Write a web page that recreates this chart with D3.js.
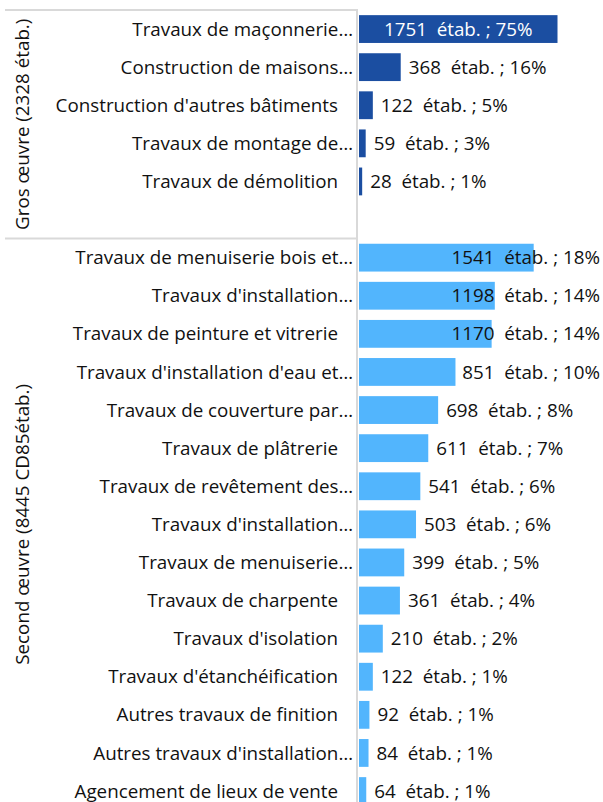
<!DOCTYPE html>
<html>
<head>
<meta charset="utf-8">
<script src="https://cdnjs.cloudflare.com/ajax/libs/d3/7.8.5/d3.min.js"></script>
<style>
  body { margin: 0; background: #fff; }
  text { font-family: "Open Sans", sans-serif; }
</style>
</head>
<body>
<script>
var width = 603
var height = 802

// data
var groupNames = ["Gros œuvre (2328 étab.)", "Second œuvre (8445 CD85étab.)"]
var grosLabels = ["Travaux de maçonnerie…", "Construction de maisons…", "Construction d'autres bâtiments",
                  "Travaux de montage de…", "Travaux de démolition"]
var grosValues = [1751, 368, 122, 59, 28]
var grosPct = [75, 16, 5, 3, 1]
var secondLabels = ["Travaux de menuiserie bois et…", "Travaux d'installation…", "Travaux de peinture et vitrerie",
                    "Travaux d'installation d'eau et…", "Travaux de couverture par…", "Travaux de plâtrerie",
                    "Travaux de revêtement des…", "Travaux d'installation…", "Travaux de menuiserie…",
                    "Travaux de charpente", "Travaux d'isolation", "Travaux d'étanchéification",
                    "Autres travaux de finition", "Autres travaux d'installation…", "Agencement de lieux de vente"]
var secondValues = [1541, 1198, 1170, 851, 698, 611, 541, 503, 399, 361, 210, 122, 92, 84, 64]
var secondPct = [18, 14, 14, 10, 8, 7, 6, 6, 5, 4, 2, 1, 1, 1, 1]
var groupSlots = [6, 15]
var colors = ["#1b4ea1", "#52b5fd"]

var x0 = 358
var ytop = 10
var step = 38.1
var labelRight = 338
var chartRight = 600
var fontSize = "18.8px"

var rows = []
grosLabels.forEach(function(d, i) { rows.push({g: 0, label: d, v: grosValues[i], p: grosPct[i], slot: i}) })
secondLabels.forEach(function(d, i) { rows.push({g: 1, label: d, v: secondValues[i], p: secondPct[i], slot: groupSlots[0] + i}) })

var nSlots = d3.sum(groupSlots)

var y = d3.scaleBand()
    .domain(d3.range(nSlots))
    .range([ytop, ytop + step * nSlots])
    .paddingInner(0.27)
    .paddingOuter(0.135)

var x = d3.scaleLinear()
    .domain([0, 1751])
    .range([0, 198.5])

var svg = d3.select("body").append("svg")
    .attr("width", width)
    .attr("height", height)

// grid / frame
var grid = svg.append("g").attr("stroke", "#d9d9d9").attr("stroke-width", 2)
var groupStart = [0, groupSlots[0]]
groupStart.forEach(function(s) {
    var yy = ytop + step * s
    grid.append("line").attr("x1", 5).attr("x2", x0).attr("y1", yy).attr("y2", yy)
})
grid.append("line").attr("x1", x0 - 1).attr("x2", x0 - 1).attr("y1", ytop).attr("y2", height)

// group labels
groupNames.forEach(function(name, gi) {
    var yc = ytop + step * (groupStart[gi] + groupSlots[gi] / 2)
    svg.append("text")
        .attr("transform", "translate(22," + yc + ") rotate(-90)")
        .attr("text-anchor", "middle")
        .attr("dy", "0.35em")
        .attr("font-size", fontSize)
        .attr("fill", "#111")
        .text(name)
})

// category labels
svg.append("g").selectAll("text")
    .data(rows)
    .enter()
    .append("text")
    .attr("x", function(d) { return d.label.slice(-1) == "…" ? labelRight + 15 : labelRight })
    .attr("y", function(d) { return y(d.slot) + y.bandwidth() / 2 })
    .attr("dy", "0.35em")
    .attr("text-anchor", "end")
    .attr("font-size", fontSize)
    .attr("fill", "#111")
    .text(function(d) { return d.label })

// bars
svg.append("g").selectAll("rect")
    .data(rows)
    .enter()
    .append("rect")
    .attr("x", x0 + 1)
    .attr("y", function(d) { return y(d.slot) })
    .attr("width", function(d) { return x(d.v) })
    .attr("height", y.bandwidth())
    .attr("fill", function(d) { return colors[d.g] })

// value labels
var vl = svg.append("g").selectAll("text")
    .data(rows)
    .enter()
    .append("text")
    .attr("y", function(d) { return y(d.slot) + y.bandwidth() / 2 })
    .attr("dy", "0.35em")
    .attr("font-size", fontSize)
    .style("white-space", "pre")
    .text(function(d) { return d.v + "\u00a0 étab. ; " + d.p + "%" })

vl.each(function(d) {
    var t = d3.select(this)
    var w = this.getComputedTextLength()
    var barEnd = x0 + 1 + x(d.v)
    if (barEnd + 8 + w <= chartRight) {
        t.attr("x", barEnd + 8).attr("fill", "#111")
    } else if (x(d.v) > w * 1.25) {
        t.attr("x", x0 + 1 + x(d.v) / 2).attr("text-anchor", "middle").attr("fill", "#fff")
    } else {
        t.attr("x", chartRight - w).attr("fill", "#111")
    }
})
</script>
</body>
</html>
